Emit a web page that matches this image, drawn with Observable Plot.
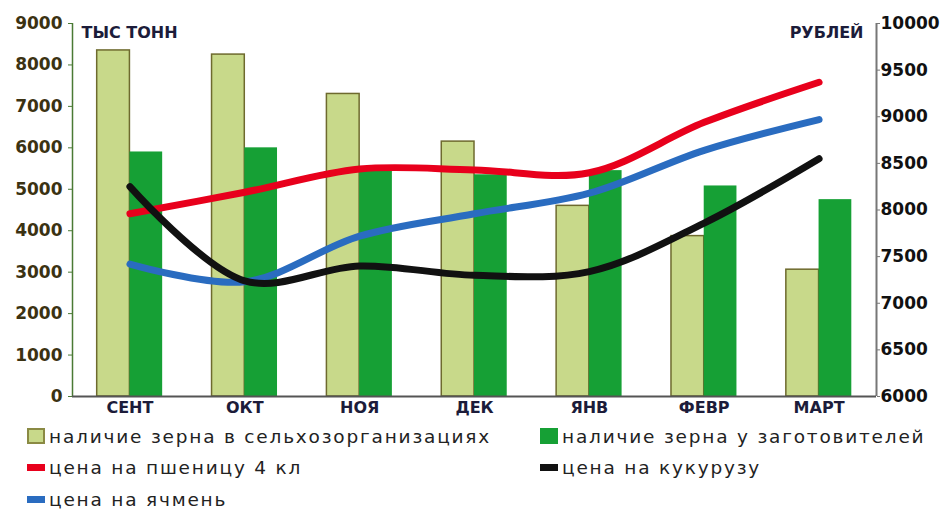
<!DOCTYPE html>
<html><head><meta charset="utf-8">
<script src="https://cdn.jsdelivr.net/npm/d3@7"></script>
<script src="https://cdn.jsdelivr.net/npm/@observablehq/plot@0.6"></script>
<style>
body{margin:0;background:#fff;width:947px;height:510px;overflow:hidden}
#legend{position:relative;width:947px;height:90px;font-family:"DejaVu Sans",sans-serif;font-size:18.5px;letter-spacing:1.8px;color:#222}
.item{position:absolute;display:flex;align-items:center;white-space:nowrap;height:30px}
.sw{display:inline-block;margin-right:4px;box-sizing:border-box}
</style></head>
<body><div id="chart"></div><div id="legend"></div>
<script>
const months = ["СЕНТ","ОКТ","НОЯ","ДЕК","ЯНВ","ФЕВР","МАРТ"];
const farms = [8350,8250,7300,6150,4600,3870,3060];
const procurers = [5900,6000,5430,5350,5450,5080,4750];
const wheat = [7960,8190,8440,8430,8400,8940,9370];
const corn = [8250,7240,7400,7300,7340,7860,8550];
const barley = [7420,7230,7720,7960,8180,8640,8970];
const leftTicks = [0,1000,2000,3000,4000,5000,6000,7000,8000,9000];
const rightTicks = [6000,6500,7000,7500,8000,8500,9000,9500,10000];
const names = {
  farms:"наличие зерна в сельхозорганизациях",
  procurers:"наличие зерна у заготовителей",
  wheat:"цена на пшеницу 4 кл",
  corn:"цена на кукурузу",
  barley:"цена на ячмень"
};
const colors = {farms:"#c8d98a", procurers:"#16a035", wheat:"#e8001c", corn:"#111111", barley:"#2a6cc0"};

const toLeft = p => (p - 6000) * 9000 / 4000;
const fromLeft = v => v * 4000 / 9000 + 6000;
const idx = months.map((m,i)=>i);
const bw = 0.285;

const farmData = idx.map(i=>({i, v:farms[i]}));
const procData = idx.map(i=>({i, v:procurers[i]}));
const lineSets = [["wheat",wheat],["barley",barley],["corn",corn]];

const W = 947, H = 420;
const chart = Plot.plot({
  width: W, height: H,
  marginLeft: 72, marginRight: 71, marginTop: 23, marginBottom: 24,
  style:{fontFamily:"DejaVu Sans, sans-serif", background:"#fff"},
  x:{type:"linear", domain:[-0.5, 6.5], axis:null},
  y:{domain:[0,9000], axis:null},
  marks:[
    Plot.rectY(farmData,{x1:d=>d.i-bw, x2:d=>d.i, y1:0, y2:"v", fill:colors.farms, stroke:"#6e6a2e", strokeWidth:1.5}),
    Plot.rectY(procData,{x1:d=>d.i, x2:d=>d.i+bw, y1:0, y2:"v", fill:colors.procurers}),
    ...lineSets.map(([k,arr]) => Plot.line(idx.map(i=>({i, v:toLeft(arr[i])})),{x:"i", y:"v", stroke:colors[k], strokeWidth:7, curve:"catmull-rom"})),
    Plot.ruleX([-0.5],{y1:0,y2:9000,stroke:"#4a7a34",strokeWidth:1.5}),
    Plot.axisY(leftTicks,{anchor:"left", label:null, tickSize:4, tickPadding:6, stroke:"#4a7a34", fill:"#3b3212", fontSize:17, fontWeight:"bold", tickFormat:d=>String(d)}),
    Plot.ruleX([6.5],{y1:0,y2:9000,stroke:"#777",strokeWidth:2}),
    Plot.axisY(rightTicks.map(toLeft),{anchor:"right", label:null, tickSize:3, tickPadding:1, stroke:"#777", fill:"#111", fontSize:17, fontWeight:"bold", tickFormat:d=>String(Math.round(fromLeft(d)))}),
    Plot.ruleY([0],{x1:-0.5,x2:6.5,stroke:"#555",strokeWidth:2}),
    Plot.axisX(idx,{anchor:"bottom", label:null, tickSize:0, tickPadding:5, fill:"#1c1c3a", fontSize:16, fontWeight:"bold", tickFormat:i=>months[i]}),
    Plot.text(["ТЫС ТОНН"],{frameAnchor:"top-left", dx:9, dy:3, fontSize:16, fontWeight:"bold", fill:"#1c1c3a", textAnchor:"start"}),
    Plot.text(["РУБЛЕЙ"],{frameAnchor:"top-right", dx:-13, dy:3, fontSize:16, fontWeight:"bold", fill:"#1c1c3a", textAnchor:"end"})
  ]
});
document.getElementById("chart").appendChild(chart);

const leg = document.getElementById("legend");
const items = [
  ["farms",27,1,"box"],["procurers",540,1,"box"],
  ["wheat",27,32,"line"],["corn",540,32,"line"],
  ["barley",27,64,"line"]
];
for (const [k,x,y,t] of items){
  const el = document.createElement("div");
  el.className="item"; el.style.left=x+"px"; el.style.top=y+"px";
  const sw = document.createElement("span"); sw.className="sw";
  if (t==="box"){ sw.style.width="18px"; sw.style.height="16px"; sw.style.background=colors[k]; if(k==="farms") sw.style.border="2px solid #8a8a44"; }
  else { sw.style.width="18px"; sw.style.height="7px"; sw.style.background=colors[k]; }
  el.appendChild(sw);
  const tx = document.createElement("span"); tx.textContent=names[k];
  el.appendChild(tx); leg.appendChild(el);
}
</script></body></html>
